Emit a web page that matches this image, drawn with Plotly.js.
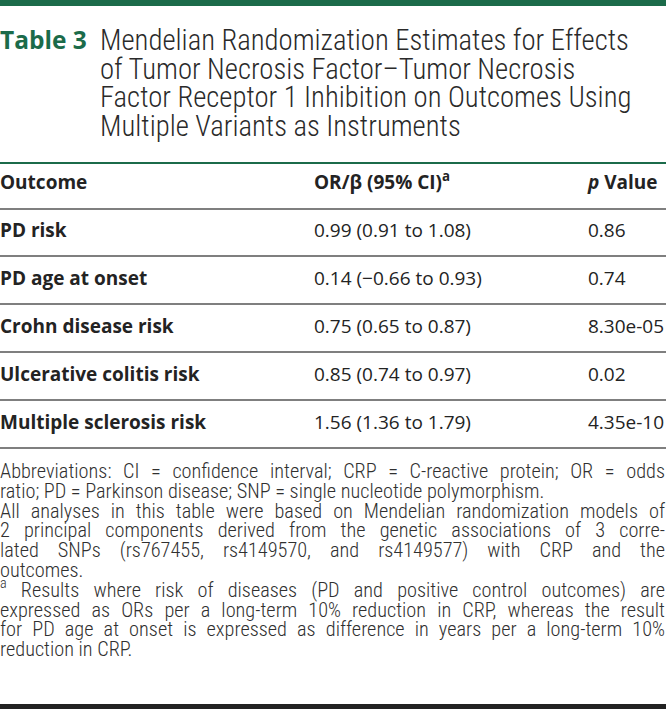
<!DOCTYPE html>
<html><head><meta charset="utf-8"><script src="https://cdn.plot.ly/plotly-3.0.1.min.js"></script></head>
<body style="margin:0;background:#fff">
<div id="c" style="width:666px;height:709px"></div>
<script>
// ---- data ----
const tableLabel = 'Table 3';
const titleLines = [
  'Mendelian Randomization Estimates for Effects',
  'of Tumor Necrosis Factor–Tumor Necrosis',
  'Factor Receptor 1 Inhibition on Outcomes Using',
  'Multiple Variants as Instruments'
];
const headers = ['Outcome', 'OR/β (95% CI)<sup>a</sup>', '<i>p</i> Value'];
const outcomes = ['PD risk', 'PD age at onset', 'Crohn disease risk', 'Ulcerative colitis risk', 'Multiple sclerosis risk'];
const estimates = ['0.99 (0.91 to 1.08)', '0.14 (−0.66 to 0.93)', '0.75 (0.65 to 0.87)', '0.85 (0.74 to 0.97)', '1.56 (1.36 to 1.79)'];
const pValues = ['0.86', '0.74', '8.30e-05', '0.02', '4.35e-10'];
const footnoteLines = [
  'Abbreviations: CI = confidence interval; CRP = C-reactive protein; OR = odds',
  'ratio; PD = Parkinson disease; SNP = single nucleotide polymorphism.',
  'All analyses in this table were based on Mendelian randomization models of',
  '2 principal components derived from the genetic associations of 3 corre-',
  'lated SNPs (rs767455, rs4149570, and rs4149577) with CRP and the',
  'outcomes.',
  '<sup>a</sup> Results where risk of diseases (PD and positive control outcomes) are',
  'expressed as ORs per a long-term 10% reduction in CRP, whereas the result',
  'for PD age at onset is expressed as difference in years per a long-term 10%',
  'reduction in CRP.'
];
const footnoteJustified = [true, false, true, true, true, false, true, true, true, false];

// ---- layout constants ----
const W = 666, H = 709;
const GREEN = '#1b6b4a', TXT = '#232323', RULE = '#555555';
const colX = [0, 314, 588];
const headerY = 184, firstRowY = 232, rowH = 48, headerRuleY = 209;
const titleY0 = 43, titleDY = 28.6, titleX = 100, titleSize = 28.7;
const fnY0 = 473, fnDY = 19.8, fnSize = 20.3, fnFont = 'Roboto Condensed', lightW = 300;
const bodyFont = 'Open Sans', bodySize = 19;

const cv = document.createElement('canvas').getContext('2d');
function measure(t, size, fam) {
  cv.font = lightW + ' ' + size + 'px "' + fam + '"';
  return cv.measureText(t).width;
}

const traces = [];
// title
traces.push({type:'scatter', mode:'text', x:[0], y:[titleY0], text:['<b>'+tableLabel+'</b>'],
  textposition:'middle right', textfont:{family:'Open Sans', size:24.5, color:GREEN}, hoverinfo:'skip'});
traces.push({type:'scatter', mode:'text', x:titleLines.map(()=>titleX), y:titleLines.map((_, i)=>titleY0 + i*titleDY),
  text:titleLines, textposition:'middle right', textfont:{family:'Roboto Condensed', weight:lightW, size:titleSize, color:'#2a2a2a'}, hoverinfo:'skip'});
// header
traces.push({type:'scatter', mode:'text', x:colX, y:colX.map(()=>headerY), text:headers.map(h=>'<b>'+h+'</b>'),
  textposition:'middle right', textfont:{family:bodyFont, size:bodySize, color:TXT}, hoverinfo:'skip'});
// rows
const rowYs = outcomes.map((_, i)=>firstRowY + i*rowH);
traces.push({type:'scatter', mode:'text', x:outcomes.map(()=>colX[0]), y:rowYs, text:outcomes.map(o=>'<b>'+o+'</b>'),
  textposition:'middle right', textfont:{family:bodyFont, size:bodySize, color:TXT}, hoverinfo:'skip'});
traces.push({type:'scatter', mode:'text', x:estimates.map(()=>colX[1]), y:rowYs, text:estimates,
  textposition:'middle right', textfont:{family:bodyFont, size:bodySize, color:TXT}, hoverinfo:'skip'});
traces.push({type:'scatter', mode:'text', x:pValues.map(()=>colX[2]), y:rowYs, text:pValues,
  textposition:'middle right', textfont:{family:bodyFont, size:bodySize, color:TXT}, hoverinfo:'skip'});
// footnotes (justified lines split into words)
const fx = [], fy = [], ft = [];
footnoteLines.forEach((line, i) => {
  const y = fnY0 + i*fnDY;
  if (!footnoteJustified[i]) { fx.push(0); fy.push(y); ft.push(line); return; }
  const words = line.split(' ');
  const ws = words.map(w => w.startsWith('<sup>') ? measure(w.replace(/<\/?sup>/g,''), fnSize*0.7, fnFont) : measure(w, fnSize, fnFont));
  const total = ws.reduce((a,b)=>a+b, 0);
  const gap = (W - 1 - total) / (words.length - 1);
  let x = 0;
  words.forEach((w, k) => { fx.push(x); fy.push(y); ft.push(w); x += ws[k] + gap; });
});
traces.push({type:'scatter', mode:'text', x:fx, y:fy, text:ft, textposition:'middle right',
  textfont:{family:fnFont, weight:lightW, size:fnSize, color:'#303030'}, hoverinfo:'skip'});

const shapes = [
  {type:'rect', xref:'x', yref:'y', x0:0, x1:W, y0:0, y1:6, fillcolor:GREEN, line:{width:0}},
  {type:'line', xref:'x', yref:'y', x0:0, x1:W, y0:163, y1:163, line:{color:GREEN, width:2}},
  {type:'line', xref:'x', yref:'y', x0:0, x1:W, y0:headerRuleY, y1:headerRuleY, line:{color:RULE, width:1.5}}
];
rowYs.forEach(y => shapes.push({type:'line', xref:'x', yref:'y', x0:0, x1:W, y0:y+rowH/2, y1:y+rowH/2, line:{color:RULE, width:1.5}}));
shapes.push({type:'rect', xref:'x', yref:'y', x0:0, x1:W, y0:704, y1:709, fillcolor:'#222', line:{width:0}});

Plotly.newPlot('c', traces, {
  width:W, height:H, margin:{l:0, r:0, t:0, b:0},
  xaxis:{range:[0, W], visible:false, fixedrange:true},
  yaxis:{range:[H, 0], visible:false, fixedrange:true},
  showlegend:false, shapes:shapes, paper_bgcolor:'#fff', plot_bgcolor:'#fff'
}, {displayModeBar:false, staticPlot:true});
</script></body></html>
